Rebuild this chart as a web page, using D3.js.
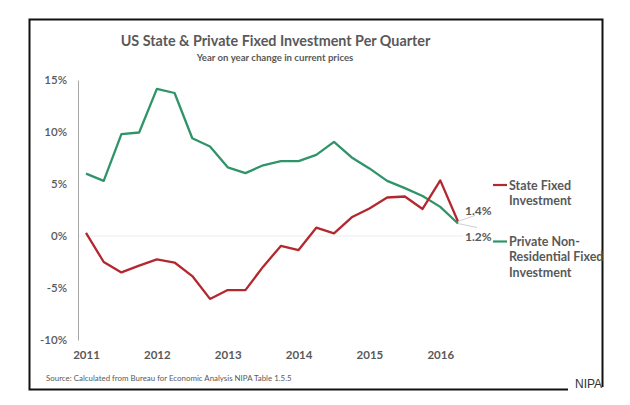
<!DOCTYPE html>
<html><head><meta charset="utf-8">
<script src="https://cdn.jsdelivr.net/npm/d3@7"></script>
<style>body{margin:0;background:#fff}svg{display:block}</style>
</head><body>
<script>
const quarters = ["2011Q1","2011Q2","2011Q3","2011Q4","2012Q1","2012Q2","2012Q3","2012Q4","2013Q1","2013Q2","2013Q3","2013Q4","2014Q1","2014Q2","2014Q3","2014Q4","2015Q1","2015Q2","2015Q3","2015Q4","2016Q1","2016Q2"];
const stateFixed = [0.3,-2.5,-3.5,-2.85,-2.25,-2.55,-3.85,-6.05,-5.2,-5.2,-2.95,-0.95,-1.35,0.8,0.25,1.8,2.65,3.7,3.8,2.6,5.35,1.4];
const privateNonRes = [6.0,5.3,9.8,9.95,14.15,13.75,9.4,8.6,6.6,6.05,6.8,7.2,7.2,7.8,9.05,7.55,6.5,5.3,4.6,3.85,2.8,1.2];
const yTicks = [15,10,5,0,-5,-10];
const yearLabels = ["2011","2012","2013","2014","2015","2016"];
const seriesNames = [["State Fixed","Investment"],["Private Non-","Residential Fixed","Investment"]];
const endLabels = ["1.4%","1.2%"];

const W=630,H=405;
const svg=d3.select("body").append("svg").attr("width",W).attr("height",H);
const font="Lato, 'Open Sans', sans-serif";
const grey="#595959";
const red="#b3282e", green="#2f9468";

function fitText(sel,width){
  const n=sel.node(); const w=n.getComputedTextLength();
  const fs=parseFloat(sel.attr("font-size"));
  sel.attr("font-size",fs*width/w);
}

// frame
svg.append("path").attr("d","M568,389.5 H29.5 V19.5 H602.5 V387")
  .attr("fill","none").attr("stroke","#111").attr("stroke-width",2);
svg.append("text").attr("x",575).attr("y",388).attr("font-family","Liberation Sans, Arial, sans-serif")
  .attr("font-size",12).attr("fill","#333").text("NIPA");

const x=d3.scaleLinear().domain([0,21]).range([86,458]);
const y=d3.scaleLinear().domain([-10,15]).range([340,80]);

// title
const t=svg.append("text").attr("x",275.5).attr("y",46).attr("text-anchor","middle")
  .attr("font-family",font).attr("font-weight",700).attr("font-size",17).attr("fill",grey)
  .text("US State & Private Fixed Investment Per Quarter");
fitText(t,310);
const st=svg.append("text").attr("x",275).attr("y",61).attr("text-anchor","middle")
  .attr("font-family",font).attr("font-weight",700).attr("font-size",11).attr("fill",grey)
  .text("Year on year change in current prices");
fitText(st,157);

// zero gridline
svg.append("line").attr("x1",78).attr("x2",463).attr("y1",y(0)).attr("y2",y(0))
  .attr("stroke","#ececec").attr("stroke-width",1);

// y axis
const yAxis=d3.axisLeft(y).tickValues(yTicks).tickSize(0).tickPadding(11).tickFormat(d=>d+"%");
const ya=svg.append("g").attr("transform","translate(78,0)").call(yAxis);
ya.select(".domain").attr("stroke","#a6a6a6").attr("stroke-width",1);
ya.selectAll("text").attr("font-family",font).attr("font-size",11.5).attr("font-weight",600).attr("fill",grey);

// x labels
const xAxis=d3.axisBottom(x).tickValues([0,4,8,12,16,20]).tickSize(0).tickPadding(0)
  .tickFormat((d,i)=>yearLabels[i]);
const xa=svg.append("g").attr("transform","translate(0,351)").call(xAxis);
xa.select(".domain").remove();
xa.selectAll("text").attr("font-family",font).attr("font-size",11.5).attr("font-weight",700).attr("fill",grey);

// lines
const line=d3.line().x((d,i)=>x(i)).y(d=>y(d));
svg.append("path").datum(privateNonRes).attr("d",line).attr("fill","none")
  .attr("stroke",green).attr("stroke-width",2.3).attr("stroke-linejoin","round");
svg.append("path").datum(stateFixed).attr("d",line).attr("fill","none")
  .attr("stroke",red).attr("stroke-width",2.3).attr("stroke-linejoin","round");

// end labels with leaders
const ex=x(21), ey=y(stateFixed[21]);
svg.append("line").attr("x1",ex).attr("y1",ey).attr("x2",ex+17).attr("y2",ey-6).attr("stroke","#d0d0d0");
svg.append("line").attr("x1",ex).attr("y1",y(privateNonRes[21])).attr("x2",ex+19).attr("y2",y(privateNonRes[21])+4).attr("stroke","#d0d0d0");
svg.append("text").attr("x",465).attr("y",215).attr("font-family",font).attr("font-weight",700)
  .attr("font-size",12).attr("fill",grey).text(endLabels[0]);
svg.append("text").attr("x",465).attr("y",240.5).attr("font-family",font).attr("font-weight",700)
  .attr("font-size",12).attr("fill",grey).text(endLabels[1]);

// legend
const legY=[185,241.5], cols=[red,green];
seriesNames.forEach((names,k)=>{
  svg.append("line").attr("x1",493).attr("x2",507).attr("y1",legY[k]).attr("y2",legY[k])
    .attr("stroke",cols[k]).attr("stroke-width",2.2);
  names.forEach((s,j)=>{
    svg.append("text").attr("x",509).attr("y",legY[k]+4.5+j*15.3).attr("font-family",font)
      .attr("font-weight",700).attr("font-size",12.5).attr("fill",grey).text(s);
  });
});

// source
const src=svg.append("text").attr("x",46).attr("y",381).attr("font-family",font)
  .attr("font-size",8).attr("fill",grey).text("Source: Calculated from Bureau for Economic Analysis NIPA Table 1.5.5");
fitText(src,246);
</script>
</body></html>
